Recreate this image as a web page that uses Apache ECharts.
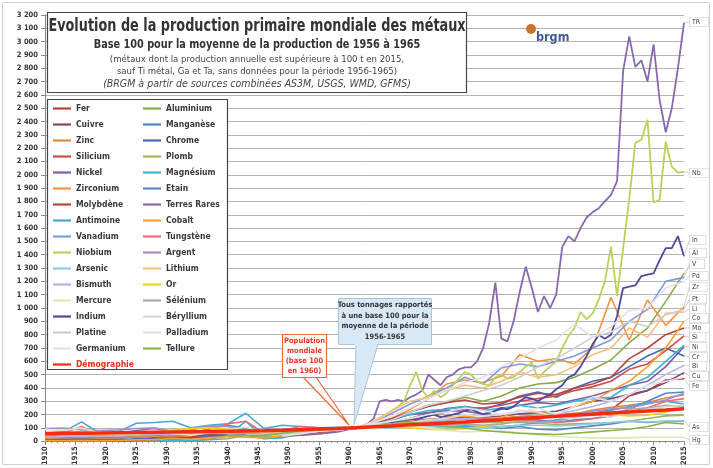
<!DOCTYPE html>
<html>
<head>
<meta charset="utf-8">
<script src="https://cdn.jsdelivr.net/npm/echarts@6/dist/echarts.min.js"></script>
<style>
  html, body { margin: 0; padding: 0; background: #fff; }
  #chart { width: 713px; height: 468px; }
</style>
</head>
<body>
<div id="chart"></div>
<script>
  const _ = null

  // années (pas de 3 ans) et années annuelles
  const yearsG = [1910, 1913, 1916, 1919, 1922, 1925, 1928, 1931, 1934, 1937, 1940, 1943, 1946, 1949, 1952, 1955, 1958, 1961, 1964, 1967, 1970, 1973, 1976, 1979, 1982, 1985, 1988, 1991, 1994, 1997, 2000, 2003, 2006, 2009, 2012, 2015]
  const yearsA = [1958, 1959, 1960, 1961, 1962, 1963, 1964, 1965, 1966, 1967, 1968, 1969, 1970, 1971, 1972, 1973, 1974, 1975, 1976, 1977, 1978, 1979, 1980, 1981, 1982, 1983, 1984, 1985, 1986, 1987, 1988, 1989, 1990, 1991, 1992, 1993, 1994, 1995, 1996, 1997, 1998, 1999, 2000, 2001, 2002, 2003, 2004, 2005, 2006, 2007, 2008, 2009, 2010, 2011, 2012, 2013, 2014, 2015]

  // valeurs (base 100 = moyenne 1956-1965)
  const fer = [30, 38, 33, 28, 27, 36, 40, 25, 27, 45, 48, 52, 38, 48, 60, 75, 85, 100, 110, 125, 145, 165, 170, 180, 160, 170, 185, 190, 195, 210, 210, 235, 340, 380, 460, 470]
  const aluminium = [1, 2, 4, 4, 3, 5, 6, 5, 4, 11, 18, 45, 19, 30, 47, 70, 80, 100, 135, 170, 220, 270, 290, 330, 300, 340, 400, 430, 440, 480, 540, 610, 740, 850, 1050, 1260]
  const cuivre = [20, 23, 30, 25, 24, 33, 40, 35, 35, 48, 56, 60, 48, 52, 60, 74, 86, 100, 110, 118, 135, 150, 160, 170, 175, 190, 205, 215, 225, 260, 300, 320, 350, 380, 440, 515]
  const manganese = [15, 20, 25, 15, 20, 35, 40, 30, 40, 55, 50, 55, 40, 50, 65, 85, 90, 100, 110, 130, 140, 160, 165, 170, 150, 155, 170, 160, 140, 160, 170, 190, 240, 300, 360, 370]
  const zinc = [21, 24, 26, 22, 24, 34, 38, 32, 37, 40, 42, 46, 43, 48, 55, 66, 80, 100, 110, 130, 145, 155, 160, 165, 165, 175, 185, 190, 190, 205, 235, 255, 270, 290, 325, 350]
  const chrome = [3, 5, 12, 8, 10, 18, 25, 20, 28, 40, 45, 50, 40, 45, 60, 85, 90, 100, 120, 140, 170, 210, 245, 260, 240, 280, 340, 370, 330, 400, 450, 480, 560, 640, 700, 640]
  const silicium = [_, _, _, _, _, _, _, _, _, _, _, _, _, _, _, _, _, 100, 115, 135, 160, 190, 220, 245, 250, 270, 300, 320, 340, 380, 410, 450, 540, 580, 680, 790]
  const plomb = [44, 46, 50, 40, 45, 60, 65, 60, 55, 65, 70, 60, 48, 60, 70, 82, 92, 100, 105, 120, 130, 140, 145, 145, 140, 140, 140, 135, 125, 130, 135, 140, 150, 170, 190, 195]
  const nickel = [8, 12, 15, 10, 8, 12, 17, 12, 22, 30, 38, 48, 38, 42, 45, 55, 70, 100, 125, 160, 200, 215, 230, 225, 205, 240, 270, 290, 280, 310, 340, 380, 420, 450, 560, 710]
  const magnesium = [_, _, _, _, _, 2, 3, 5, 5, 15, 40, 150, 20, 25, 70, 90, 85, 100, 130, 170, 200, 230, 240, 260, 230, 250, 270, 250, 270, 300, 320, 330, 420, 480, 600, 720]
  const zirconium = [_, _, _, _, _, _, _, _, _, _, _, _, _, _, _, _, _, 100, 120, 170, 240, 320, 430, 460, 440, 490, 650, 600, 620, 580, 700, 1080, 760, 1060, 870, 1010]
  const etain = [60, 62, 70, 65, 60, 80, 95, 70, 55, 95, 120, 95, 50, 85, 90, 95, 90, 100, 100, 105, 115, 115, 105, 110, 110, 95, 110, 90, 85, 100, 115, 130, 150, 140, 150, 150]
  const molybdene = [1, 1, 3, 2, 2, 5, 12, 20, 30, 50, 60, 80, 40, 45, 55, 70, 85, 100, 125, 170, 220, 260, 290, 310, 280, 290, 330, 360, 350, 400, 430, 480, 620, 700, 800, 850]
  const antimoine = [60, 70, 145, 60, 70, 135, 140, 150, 100, 120, 130, 210, 95, 120, 110, 100, 105, 100, 105, 110, 115, 120, 110, 115, 105, 110, 120, 140, 160, 190, 210, 230, 260, 290, 300, 280]
  const cobalt = [3, 4, 5, 4, 5, 10, 12, 20, 15, 25, 35, 30, 25, 40, 60, 80, 85, 100, 110, 140, 170, 200, 180, 190, 170, 180, 230, 220, 200, 260, 300, 380, 450, 560, 700, 900]
  const vanadium = [_, _, _, _, _, _, _, _, _, _, _, _, _, _, 60, 75, 90, 100, 140, 210, 280, 340, 400, 480, 430, 550, 580, 560, 600, 640, 700, 760, 900, 990, 1200, 1230]
  const tungstene = [30, 60, 110, 40, 30, 60, 70, 40, 50, 90, 130, 150, 60, 80, 110, 100, 90, 100, 110, 120, 130, 145, 160, 170, 170, 160, 160, 150, 140, 150, 170, 190, 220, 250, 300, 320]
  const argent = [95, 98, 85, 80, 85, 95, 100, 75, 85, 115, 110, 80, 55, 75, 80, 90, 95, 100, 105, 110, 120, 125, 130, 140, 145, 160, 180, 190, 180, 200, 225, 245, 250, 280, 310, 360]
  const arsenic = [50, 55, 70, 60, 55, 65, 70, 75, 70, 80, 85, 75, 70, 80, 85, 90, 95, 100, 95, 100, 105, 110, 100, 95, 100, 110, 120, 120, 115, 120, 130, 140, 150, 145, 150, 155]
  const lithium = [_, _, _, _, _, _, _, _, _, _, _, _, _, _, _, _, 80, 100, 150, 230, 300, 330, 380, 420, 400, 450, 520, 480, 500, 560, 650, 700, 850, 780, 960, 970]
  const bismuth = [30, 35, 40, 35, 40, 45, 50, 55, 55, 60, 60, 65, 55, 60, 70, 80, 90, 100, 110, 120, 135, 150, 160, 170, 160, 165, 175, 190, 200, 230, 260, 300, 350, 420, 500, 570]
  const or = [57, 60, 55, 50, 50, 65, 70, 85, 95, 100, 95, 65, 55, 65, 75, 80, 90, 100, 110, 105, 100, 90, 85, 95, 110, 125, 170, 190, 195, 200, 205, 200, 190, 195, 220, 250]
  const mercure = [90, 80, 100, 60, 50, 55, 70, 60, 45, 65, 90, 105, 60, 60, 70, 85, 90, 100, 95, 110, 115, 100, 80, 70, 75, 75, 65, 45, 35, 30, 25, 25, 25, 30, 30, 30]
  const selenium = [_, _, _, _, _, _, _, _, _, _, 50, 60, 50, 60, 70, 80, 85, 100, 110, 120, 130, 130, 120, 130, 120, 130, 150, 140, 150, 180, 200, 210, 240, 250, 270, 260]
  const beryllium = [_, _, _, _, _, _, _, _, _, _, _, 50, 40, 50, 70, 85, 90, 100, 120, 130, 140, 160, 170, 200, 190, 200, 230, 220, 180, 170, 200, 180, 220, 240, 260, 270]
  const platine = [_, _, _, _, _, _, _, _, _, _, _, _, _, 50, 60, 75, 85, 100, 120, 160, 220, 270, 300, 340, 380, 420, 480, 560, 620, 700, 780, 820, 900, 860, 950, 990]
  const palladium = [_, _, _, _, _, _, _, _, _, _, _, _, _, 40, 55, 75, 85, 100, 140, 190, 250, 320, 380, 440, 480, 560, 620, 700, 760, 880, 780, 860, 980, 1000, 1150, 1200]
  const germanium = [_, _, _, _, _, _, _, _, _, _, _, _, _, _, _, _, _, 100, 130, 150, 170, 200, 220, 250, 230, 200, 220, 250, 200, 260, 330, 300, 350, 420, 450, 480]
  const tellure = [_, _, _, _, _, _, _, _, _, _, 40, 45, 40, 60, 75, 85, 90, 100, 110, 130, 140, 130, 110, 100, 80, 70, 60, 55, 50, 60, 70, 80, 90, 110, 140, 130]
  const demographie = [58, 59, 60, 61, 63, 65, 67, 69, 71, 73, 75, 77, 79, 82, 87, 92, 96, 102, 108, 114, 123, 130, 137, 144, 153, 161, 170, 179, 187, 196, 203, 211, 219, 226, 234, 243]

  // séries annuelles
  const terresRares = [70, 90, 100, 95, 110, 130, 170, 300, 310, 300, 310, 300, 330, 350, 380, 500, 460, 420, 480, 500, 540, 555, 555, 600, 700, 890, 1190, 770, 750, 900, 1120, 1310, 1150, 970, 1090, 1000, 1100, 1460, 1540, 1500, 1600, 1680, 1720, 1750, 1800, 1850, 1950, 2780, 3040, 2810, 2860, 2700, 2980, 2560, 2320, 2500, 2800, 3140]
  const niobium = [80, 90, 100, 95, 105, 110, 130, 160, 200, 230, 260, 300, 420, 520, 380, 330, 380, 330, 360, 420, 470, 520, 500, 450, 430, 420, 480, 500, 470, 480, 520, 560, 590, 470, 520, 560, 600, 700, 790, 850, 970, 915, 960, 1065, 1200, 1460, 1090, 1450, 1814, 2240, 2264, 2414, 1792, 1814, 2249, 2061, 2016, 2024]
  const indium = [85, 95, 100, 105, 100, 110, 120, 125, 130, 140, 150, 160, 170, 160, 175, 190, 200, 180, 190, 200, 210, 230, 240, 220, 200, 210, 230, 250, 240, 260, 300, 330, 320, 300, 330, 350, 390, 420, 480, 500, 560, 640, 730, 800, 770, 800, 940, 1150, 1160, 1170, 1240, 1250, 1260, 1360, 1450, 1450, 1540, 1390]

  const leftNames = ['Fer', 'Cuivre', 'Zinc', 'Silicium', 'Nickel', 'Zirconium', 'Molybdène', 'Antimoine', 'Vanadium', 'Niobium', 'Arsenic', 'Bismuth', 'Mercure', 'Indium', 'Platine', 'Germanium', 'Démographie']
  const rightNames = ['Aluminium', 'Manganèse', 'Chrome', 'Plomb', 'Magnésium', 'Etain', 'Terres Rares', 'Cobalt', 'Tungstène', 'Argent', 'Lithium', 'Or', 'Sélénium', 'Béryllium', 'Palladium', 'Tellure']

  // position verticale (px) des étiquettes de fin, à droite du graphique
  const labelY = { TR: 22, Nb: 173, In: 240, Al: 253, V: 264, Pd: 276, Zr: 287, Pt: 299, Li: 309, Co: 318, Mo: 328, Si: 337, Ni: 347, Cr: 357, Bi: 366, Cu: 376, Fe: 386, As: 427, Hg: 440 }

  // nom, valeurs, années, couleur, étiquette de fin
  const defs = [
    ['Fer', fer, yearsG, '#b6403c', 'Fe'],
    ['Aluminium', aluminium, yearsG, '#8aa84c', 'Al'],
    ['Cuivre', cuivre, yearsG, '#7a4a6e', 'Cu'],
    ['Manganèse', manganese, yearsG, '#4a8cbc', ''],
    ['Zinc', zinc, yearsG, '#e0883a', ''],
    ['Chrome', chrome, yearsG, '#4866b8', 'Cr'],
    ['Silicium', silicium, yearsG, '#d24a4a', 'Si'],
    ['Plomb', plomb, yearsG, '#9cb85a', ''],
    ['Nickel', nickel, yearsG, '#7e5ca6', 'Ni'],
    ['Magnésium', magnesium, yearsG, '#3cb4d2', ''],
    ['Zirconium', zirconium, yearsG, '#f7923e', 'Zr'],
    ['Etain', etain, yearsG, '#5b86c4', ''],
    ['Molybdène', molybdene, yearsG, '#b5453f', 'Mo'],
    ['Terres Rares', terresRares, yearsA, '#8a68ae', 'TR'],
    ['Antimoine', antimoine, yearsG, '#46a6d8', ''],
    ['Cobalt', cobalt, yearsG, '#f8a030', 'Co'],
    ['Vanadium', vanadium, yearsG, '#7f9be0', 'V'],
    ['Tungstène', tungstene, yearsG, '#ec6a7c', ''],
    ['Niobium', niobium, yearsA, '#bcd05c', 'Nb'],
    ['Argent', argent, yearsG, '#a98bcb', ''],
    ['Arsenic', arsenic, yearsG, '#8ccfe0', 'As'],
    ['Lithium', lithium, yearsG, '#fbbd7c', 'Li'],
    ['Bismuth', bismuth, yearsG, '#b3b3e8', 'Bi'],
    ['Or', or, yearsG, '#f2d21a', ''],
    ['Mercure', mercure, yearsG, '#dfe8b2', 'Hg'],
    ['Sélénium', selenium, yearsG, '#a8a8a8', ''],
    ['Indium', indium, yearsA, '#4c4b9e', 'In'],
    ['Béryllium', beryllium, yearsG, '#d9d9d9', ''],
    ['Platine', platine, yearsG, '#cdcdd2', 'Pt'],
    ['Palladium', palladium, yearsG, '#e6dde6', 'Pd'],
    ['Germanium', germanium, yearsG, '#e0e0f2', ''],
    ['Tellure', tellure, yearsG, '#8ab446', ''],
    ['Démographie', demographie, yearsG, '#f52b12', '']
  ]

  const FONT = '"DejaVu Sans Condensed", "Liberation Sans", sans-serif'

  const buildData = (years, vals, tag) => {
    const out = []
    vals.forEach((v, i) => {
      if (v == null) return
      if (i === vals.length - 1 && tag) {
        out.push({ value: [years[i], v], symbol: 'circle', symbolSize: 1, label: { show: true, formatter: tag } })
      } else {
        out.push([years[i], v])
      }
    })
    return out
  }

  const series = defs.map(([name, vals, years, color, tag]) => ({
    name: name,
    type: 'line',
    symbol: 'none',
    showSymbol: true,
    silent: true,
    animation: false,
    color: color,
    lineStyle: { color: color, width: name === 'Démographie' ? 3.5 : (name === 'Terres Rares' || name === 'Niobium' || name === 'Indium' ? 1.8 : 1.6) },
    label: {
      show: false,
      position: 'right',
      fontFamily: FONT,
      fontSize: 7,
      color: '#444',
      backgroundColor: '#fff',
      borderColor: '#c8c8c8',
      borderWidth: 0.6,
      padding: [1, 8, 1, 2]
    },
    labelLine: { show: true, lineStyle: { color: '#c4c4c4', width: 0.8 } },
    labelLayout: tag ? { x: 690, y: labelY[tag], align: 'left', verticalAlign: 'middle' } : null,
    data: buildData(years, vals, tag)
  }))

  const legendBase = {
    orient: 'vertical',
    top: 104,
    padding: 0,
    icon: 'rect',
    itemWidth: 18,
    itemHeight: 2.2,
    itemGap: 7,
    selectedMode: false,
    textStyle: { fontFamily: FONT, fontSize: 8.5, fontWeight: 'bold', color: '#3a3a3a' }
  }

  const chart = echarts.init(document.getElementById('chart'))
  chart.setOption({
    backgroundColor: '#fff',
    animation: false,
    textStyle: { fontFamily: FONT },
    grid: { left: 45, right: 29, top: 15, bottom: 26 },
    legend: [
      Object.assign({}, legendBase, {
        left: 53,
        data: leftNames.map(n => n === 'Démographie' ? { name: n, textStyle: { color: '#f52b12' } } : n)
      }),
      Object.assign({}, legendBase, { left: 143, data: rightNames })
    ],
    xAxis: {
      type: 'value',
      min: 1910,
      max: 2015,
      interval: 5,
      axisLine: { show: true, lineStyle: { color: '#888' } },
      axisTick: { show: true, length: 4, lineStyle: { color: '#888' } },
      minorTick: { show: true, splitNumber: 5, length: 2, lineStyle: { color: '#999' } },
      splitLine: { show: false },
      axisLabel: { rotate: 90, fontSize: 7.5, fontWeight: 'bold', color: '#333', margin: 5, formatter: v => String(v) }
    },
    yAxis: {
      type: 'value',
      min: 0,
      max: 3200,
      interval: 100,
      axisLine: { show: true, lineStyle: { color: '#888' } },
      axisTick: { show: true, length: 4, lineStyle: { color: '#888' } },
      splitLine: { lineStyle: { color: '#b4b4b4', width: 1 } },
      axisLabel: {
        fontSize: 7.5,
        fontWeight: 'bold',
        color: '#333',
        margin: 7,
        formatter: v => v >= 1000 ? Math.floor(v / 1000) + ' ' + String(v % 1000).padStart(3, '0') : String(v)
      }
    },
    series: series,
    graphic: [
      { type: 'rect', z: 0, silent: true, shape: { x: 2.5, y: 2.5, width: 707, height: 462 }, style: { fill: 'none', stroke: '#d0d0d0', lineWidth: 1 } },
      // cadre du titre
      { type: 'rect', z: 100, silent: true, shape: { x: 47.5, y: 12.5, width: 419, height: 80 }, style: { fill: '#fff', stroke: '#444', lineWidth: 1.2 } },
      { type: 'text', z: 101, silent: true, x: 257, y: 27, scaleX: 0.84, style: { text: 'Evolution de la production primaire mondiale des métaux', fontFamily: FONT, fontSize: 17, fontWeight: 'bold', fill: '#333', align: 'center', verticalAlign: 'middle' } },
      { type: 'text', z: 101, silent: true, x: 257, y: 45, scaleX: 0.9, style: { text: 'Base 100 pour la moyenne de la production de 1956 à 1965', fontFamily: FONT, fontSize: 12, fontWeight: 'bold', fill: '#333', align: 'center', verticalAlign: 'middle' } },
      { type: 'text', z: 101, silent: true, x: 257, y: 60, style: { text: '(métaux dont la production annuelle est supérieure à 100 t en 2015,', fontFamily: FONT, fontSize: 9.5, fill: '#444', align: 'center', verticalAlign: 'middle' } },
      { type: 'text', z: 101, silent: true, x: 257, y: 72, style: { text: 'sauf Ti métal, Ga et Ta, sans données pour la période 1956-1965)', fontFamily: FONT, fontSize: 9.5, fill: '#444', align: 'center', verticalAlign: 'middle' } },
      { type: 'text', z: 101, silent: true, x: 257, y: 84, style: { text: '(BRGM à partir de sources combinées AS3M, USGS, WMD, GFMS)', fontFamily: FONT, fontSize: 10.5, fontStyle: 'italic', fill: '#444', align: 'center', verticalAlign: 'middle' } },
      // logo brgm
      { type: 'circle', z: 101, silent: true, shape: { cx: 531, cy: 29, r: 5 }, style: { fill: '#c8742c' } },
      { type: 'text', z: 101, silent: true, x: 536, y: 38, style: { text: 'brgm', fontFamily: FONT, fontSize: 12.5, fontWeight: 'bold', fill: '#3d5a98', verticalAlign: 'middle' } },
      // cadre de la légende
      { type: 'rect', z: 3, silent: true, shape: { x: 47.5, y: 99.5, width: 180, height: 270 }, style: { fill: '#fff', stroke: '#444', lineWidth: 1.2 } },
      // bulle population
      { type: 'polygon', z: 100, silent: true, shape: { points: [[303, 377], [316, 377], [349, 425]] }, style: { fill: '#fff', stroke: '#f06a30', lineWidth: 1.2 } },
      { type: 'rect', z: 101, silent: true, shape: { x: 282.5, y: 334.5, width: 44, height: 43 }, style: { fill: '#fff', stroke: '#f06a30', lineWidth: 1.2 } },
      { type: 'text', z: 102, silent: true, x: 304.5, y: 356, style: { text: 'Population\nmondiale\n(base 100\nen 1960)', fontFamily: FONT, fontSize: 7.5, fontWeight: 'bold', lineHeight: 10, fill: '#ee3322', align: 'center', verticalAlign: 'middle' } },
      // bulle tonnages
      { type: 'polygon', z: 100, silent: true, shape: { points: [[356, 344], [378, 344], [354, 425]] }, style: { fill: '#d9e8f5', stroke: '#a8c6de', lineWidth: 1 } },
      { type: 'rect', z: 101, silent: true, shape: { x: 338.5, y: 298.5, width: 93, height: 46 }, style: { fill: '#d9e8f5', stroke: '#a8c6de', lineWidth: 1 } },
      { type: 'rect', z: 102, silent: true, shape: { x: 355, y: 342, width: 22, height: 4 }, style: { fill: '#d9e8f5' } },
      { type: 'text', z: 103, silent: true, x: 385, y: 321, style: { text: 'Tous tonnages rapportés\nà une base 100 pour la\nmoyenne de la période\n1956-1965', fontFamily: FONT, fontSize: 7.5, fontWeight: 'bold', lineHeight: 10.5, fill: '#333', align: 'center', verticalAlign: 'middle' } }
    ]
  })
</script>
</body>
</html>
